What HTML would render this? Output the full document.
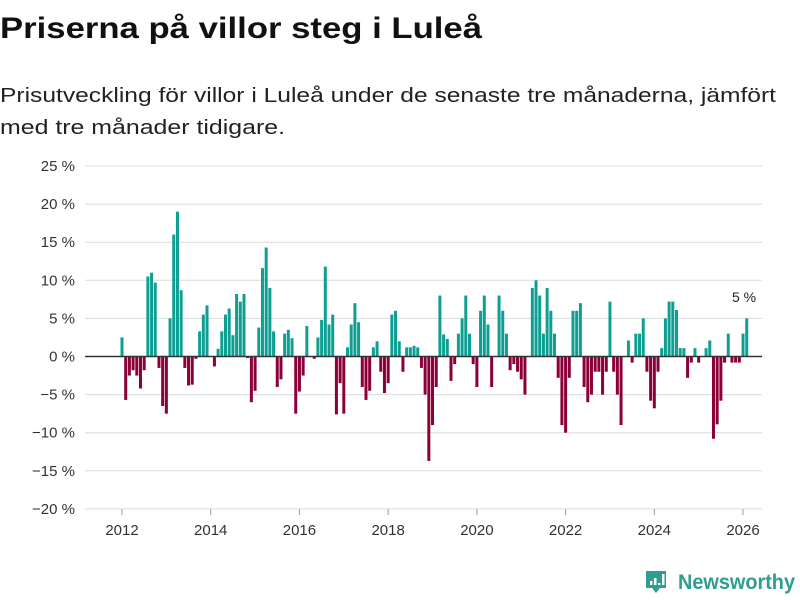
<!DOCTYPE html>
<html><head><meta charset="utf-8"><style>
html,body{margin:0;padding:0;background:#fff;width:800px;height:600px;overflow:hidden}
svg{display:block;font-family:"Liberation Sans","DejaVu Sans",sans-serif}
</style></head><body>
<svg id="chart" width="800" height="600" viewBox="0 0 800 600">
<text x="0" y="38" font-size="30" font-weight="bold" fill="#111" textLength="482" lengthAdjust="spacingAndGlyphs">Priserna på villor steg i Luleå</text>
<text x="0" y="102" font-size="20" fill="#222" textLength="776" lengthAdjust="spacingAndGlyphs">Prisutveckling för villor i Luleå under de senaste tre månaderna, jämfört</text>
<text x="0" y="134" font-size="20" fill="#222" textLength="285" lengthAdjust="spacingAndGlyphs">med tre månader tidigare.</text>
<g id="grid"></g>
<g id="bars"></g>
<g id="xaxis"></g>
<text x="744" y="302" font-size="14" fill="#222" text-anchor="middle">5 %</text>
<g>
<path d="M646 571 h20 v17 h-6 l-4 5 l-4 -5 h-6 z" fill="#2f9e8e"/>
<rect x="650" y="581" width="2.5" height="4" fill="#fff"/>
<rect x="654" y="578" width="2.5" height="7" fill="#fff"/>
<rect x="658" y="583" width="2.5" height="2" fill="#fff"/>
<rect x="662" y="574" width="2.5" height="11" fill="#fff"/>
<text x="678" y="589" font-size="21" font-weight="bold" fill="#2f9e8e" textLength="117" lengthAdjust="spacingAndGlyphs">Newsworthy</text>
</g>
</svg>
<script>
const yTicks = [25,20,15,10,5,0,-5,-10,-15,-20];
const xTickYears = [2012,2014,2016,2018,2020,2022,2024,2026];
const startYear = 2012;
const values = [
2.5,-5.7,-2.5,-1.8,-2.5,-4.2,-1.8,10.5,11,9.7,-1.5,-6.5,-7.5,5,16,19,8.7,-1.5,-3.8,-3.7,-0.3,3.3,5.5,6.7,0,-1.3,1,3.3,5.5,6.3,2.8,8.2,7.2,8.2,-0.2,-6,-4.5,3.8,11.6,14.3,9,3.3,-4,
-3,3,3.5,2.4,-7.5,-4.6,-2.5,4,0,-0.3,2.5,4.8,11.8,4.2,5.5,-7.6,-3.5,-7.5,1.2,4.2,7,4.5,-4,-5.7,-4.5,1.2,2,-2,-4.8,-3.5,5.5,6,2,-2,1.2,1.2,1.4,1.2,-1.5,-5,-13.7,-9,-4,8,
2.9,2.3,-3.2,-1,3,5,8,3,-1,-4,6,8,4.2,-4,0,8,6,3,-1.8,-1,-2,-3,-5,0,9,10,8,3,9,6,3,-2.8,-9,-10,-2.8,6,6,7,-4,-6,-5,-2,
-2,-5,-2,7.2,-2,-5,-9,0,2.1,-0.8,3,3,5,-2,-5.8,-6.8,-2,1.1,5,7.2,7.2,6.1,1.1,1.1,-2.8,-0.8,1.1,-0.8,0,1.1,2.1,-10.8,-8.9,-5.8,-0.8,3,-0.8,-0.8,-0.8,3,5
];
const NS='http://www.w3.org/2000/svg';
function y(v){return 356.5 - v*7.62;}
function x(yearFrac){return 122 + (yearFrac-startYear)*44.36;}
const grid=document.getElementById('grid');
yTicks.forEach(t=>{
  const l=document.createElementNS(NS,'line');
  
  
  l.setAttribute('x1',85);l.setAttribute('x2',762);
  l.setAttribute('y1',y(t));l.setAttribute('y2',y(t));
  l.setAttribute('stroke',t===0?'#333':'#dcdcdc');l.setAttribute('stroke-width',t===0?1.5:1);
  if(t!==0)grid.appendChild(l);
  const tx=document.createElementNS(NS,'text');
  
  
  tx.setAttribute('x',75);tx.setAttribute('y',y(t)+5);tx.setAttribute('text-anchor','end');
  tx.setAttribute('font-size','15');tx.setAttribute('fill','#333');
  tx.textContent=(t<0?'\u2212'+(-t):t)+' %';
  grid.appendChild(tx);
});
const bars=document.getElementById('bars');
values.forEach((v,i)=>{
  const r=document.createElementNS(NS,'rect');
  
  
  const cx=x(startYear+i/12);
  r.setAttribute('x',cx-1.5);r.setAttribute('width',3);
  r.setAttribute('y',Math.min(y(v),y(0)));r.setAttribute('height',Math.abs(y(v)-y(0)));
  r.setAttribute('fill',v>=0?'#0e9f93':'#8c0039');
  bars.appendChild(r);
});
const zl=document.createElementNS(NS,'line');


zl.setAttribute('x1',85);zl.setAttribute('x2',762);zl.setAttribute('y1',y(0));zl.setAttribute('y2',y(0));
zl.setAttribute('stroke','#333');zl.setAttribute('stroke-width','1.5');
bars.appendChild(zl);
const xa=document.getElementById('xaxis');
xTickYears.forEach(yr=>{
  const tk=document.createElementNS(NS,'line');
  
  
  tk.setAttribute('x1',x(yr));tk.setAttribute('x2',x(yr));tk.setAttribute('y1',509);tk.setAttribute('y2',515);
  tk.setAttribute('stroke','#999');
  xa.appendChild(tk);
  const tx=document.createElementNS(NS,'text');
  
  
  tx.setAttribute('x',x(yr));tx.setAttribute('y',535);tx.setAttribute('text-anchor','middle');
  tx.setAttribute('font-size','15');tx.setAttribute('fill','#333');
  tx.textContent=yr;
  xa.appendChild(tx);
});
</script>
</body></html>
